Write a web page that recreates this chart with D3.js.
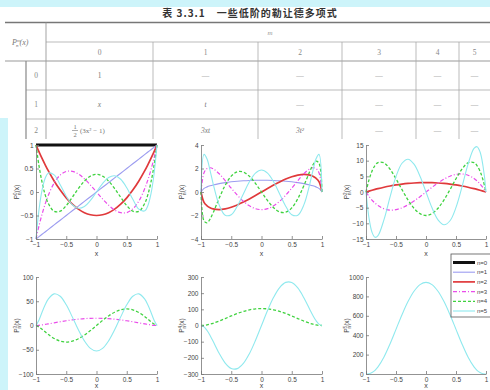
<!DOCTYPE html>
<html><head><meta charset="utf-8">
<script src="https://cdnjs.cloudflare.com/ajax/libs/d3/7.8.5/d3.min.js"></script>
<style>body{margin:0;background:#fff}svg{display:block}</style>
</head><body>
<svg id="c" width="490" height="390"></svg>
<script>
// ---------- data ----------
const xs = [-1,-0.95,-0.9,-0.85,-0.8,-0.7,-0.6,-0.5,-0.4,-0.3,-0.2,-0.1,0,0.1,0.2,0.3,0.4,0.5,0.6,0.7,0.8,0.85,0.9,0.95,1];
const ordersM = [0,1,2,3,4,5];
const degreesN = [0,1,2,3,4,5];
const legendLabels = ["n=0","n=1","n=2","n=3","n=4","n=5"];
const xTicks = [-1,-0.5,0,0.5,1];
const yDomains = [[-1,1],[-4,4],[-15,15],[-100,100],[-300,300],[0,1000]];
const yTicks = [[-1,-0.5,0,0.5,1],[-4,-2,0,2,4],[-15,-10,-5,0,5,10,15],[-100,-50,0,50,100],[-300,-200,-100,0,100,200,300],[0,200,400,600,800,1000]];

const m0 = [
 [1,1,1,1,1,1,1,1,1,1,1,1,1,1,1,1,1,1,1,1,1,1,1,1,1],
 [-1,-0.95,-0.9,-0.85,-0.8,-0.7,-0.6,-0.5,-0.4,-0.3,-0.2,-0.1,0,0.1,0.2,0.3,0.4,0.5,0.6,0.7,0.8,0.85,0.9,0.95,1],
 [1,0.854,0.715,0.584,0.46,0.235,0.04,-0.125,-0.26,-0.365,-0.44,-0.485,-0.5,-0.485,-0.44,-0.365,-0.26,-0.125,0.04,0.235,0.46,0.584,0.715,0.854,1],
 [-1,-0.718,-0.473,-0.26,-0.08,0.193,0.36,0.438,0.44,0.383,0.28,0.148,0,-0.148,-0.28,-0.383,-0.44,-0.438,-0.36,-0.193,0.08,0.26,0.473,0.718,1],
 [1,0.554,0.208,-0.051,-0.233,-0.412,-0.408,-0.289,-0.113,0.073,0.232,0.338,0.375,0.338,0.232,0.073,-0.113,-0.289,-0.408,-0.412,-0.233,-0.051,0.208,0.554,1],
 [-1,-0.373,0.041,0.286,0.4,0.365,0.153,-0.09,-0.271,-0.345,-0.308,-0.179,0,0.179,0.308,0.345,0.271,0.09,-0.153,-0.365,-0.4,-0.286,-0.041,0.373,1]
];
const m1 = [
 null,
 [0,0.312,0.436,0.527,0.6,0.714,0.8,0.866,0.917,0.954,0.98,0.995,1,0.995,0.98,0.954,0.917,0.866,0.8,0.714,0.6,0.527,0.436,0.312,0],
 [0,-0.89,-1.177,-1.343,-1.44,-1.5,-1.44,-1.299,-1.1,-0.859,-0.588,-0.299,0,0.299,0.588,0.859,1.1,1.299,1.44,1.5,1.44,1.343,1.177,0.89,0],
 [0,1.645,1.994,2.064,1.98,1.553,0.96,0.325,-0.275,-0.787,-1.176,-1.418,-1.5,-1.418,-1.176,-0.787,-0.275,0.325,0.96,1.553,1.98,2.064,1.994,1.645,0],
 [0,-2.46,-2.619,-2.303,-1.776,-0.537,0.576,1.353,1.723,1.696,1.333,0.729,0,-0.729,-1.333,-1.696,-1.723,-1.353,-0.576,0.537,1.776,2.303,2.619,2.46,0],
 [0,3.202,2.81,1.824,0.722,-1.095,-1.978,-1.928,-1.207,-0.161,0.87,1.608,1.875,1.608,0.87,-0.161,-1.207,-1.928,-1.978,-1.095,0.722,1.824,2.81,3.202,0]
];
const m2 = [
 null, null,
 [0,0.293,0.57,0.833,1.08,1.53,1.92,2.25,2.52,2.73,2.88,2.97,3,2.97,2.88,2.73,2.52,2.25,1.92,1.53,1.08,0.833,0.57,0.293,0],
 [0,-1.389,-2.565,-3.538,-4.32,-5.355,-5.76,-5.625,-5.04,-4.095,-2.88,-1.485,0,1.485,2.88,4.095,5.04,5.625,5.76,5.355,4.32,3.538,2.565,1.389,0],
 [0,3.888,6.655,8.445,9.396,9.295,7.296,4.219,0.756,-2.525,-5.184,-6.905,-7.5,-6.905,-5.184,-2.525,0.756,4.219,7.296,9.295,9.396,8.445,6.655,3.888,0],
 [0,-8.303,-12.838,-14.458,-13.91,-8.809,-1.613,4.922,9.173,10.463,8.87,5.042,0,-5.042,-8.87,-10.463,-9.173,-4.922,1.613,8.809,13.91,14.458,12.838,8.303,0]
];
const m3 = [
 null, null, null,
 [0,0.457,1.242,2.193,3.24,5.463,7.68,9.743,11.548,13.021,14.109,14.776,15,14.776,14.109,13.021,11.548,9.743,7.68,5.463,3.24,2.193,1.242,0.457,0],
 [0,-3.037,-7.826,-13.047,-18.144,-26.769,-32.256,-34.1,-32.335,-27.345,-19.753,-10.343,0,10.343,19.753,27.345,32.335,34.1,32.256,26.769,18.144,13.047,7.826,3.037,0],
 [0,11.384,27.349,42.228,53.978,65.203,60.211,42.625,17.784,-8.659,-31.604,-47.06,-52.5,-47.06,-31.604,-8.659,17.784,42.625,60.211,65.203,53.978,42.228,27.349,11.384,0]
];
const m4 = [
 null, null, null, null,
 [0,0.998,3.791,8.086,13.608,27.311,43.008,59.063,74.088,86.951,96.768,102.911,105,102.911,96.768,86.951,74.088,59.063,43.008,27.311,13.608,8.086,3.791,0.998,0],
 [0,-8.534,-30.703,-61.855,-97.978,-172.056,-232.243,-265.781,-266.717,-234.766,-174.182,-92.619,0,92.619,174.182,234.766,266.717,265.781,232.243,172.056,97.978,61.855,30.703,8.534,0]
];
const m5 = [
 null, null, null, null, null,
 [0,2.805,14.87,38.335,73.483,175.534,309.658,460.347,611.132,746.512,853.316,921.555,945,921.555,853.316,746.512,611.132,460.347,309.658,175.534,73.483,38.335,14.87,2.805,0]
];
const allM = [m0,m1,m2,m3,m4,m5];

// table content
const tableTitle = "表 3.3.1　一些低阶的勒让德多项式";
const colHeads = ["0","1","2","3","4","5"];
const rowHeads = ["0","1","2"];
const cells = [
 ["1","—","—","—","—","—"],
 ["x","t","—","—","—","—"],
 ["FRAC","3xt","3t²","—","—","—"]
];

// ---------- styles ----------
const lineStyle = [
 {c:"#111", w:3, d:null},
 {c:"#9c9cf0", w:1.1, d:null},
 {c:"#e0393b", w:1.7, d:null},
 {c:"#ea4cea", w:1.2, d:"4,2,1,2"},
 {c:"#3fd23f", w:1.3, d:"3,2"},
 {c:"#8fe9ee", w:1.1, d:null}
];

const svg = d3.select("#c");
svg.append("rect").attr("x",0).attr("y",0).attr("width",490).attr("height",7).attr("fill","#cdf4fa");
svg.append("rect").attr("x",0).attr("y",118).attr("width",8).attr("height",272).attr("fill","#cdf4fa");

// ---------- table ----------
const tg = svg.append("g");
tg.append("text").attr("x",250).attr("y",17).attr("text-anchor","middle")
  .attr("font-family","'Noto Sans CJK SC'").attr("font-weight","bold").attr("font-size",10)
  .attr("letter-spacing",1).attr("fill","#333").text(tableTitle);
const colX = [46,153,258,342,416,459,490];
const hl = (x1,x2,y,w,c)=>tg.append("line").attr("x1",x1).attr("x2",x2).attr("y1",y).attr("y2",y).attr("stroke",c).attr("stroke-width",w);
const vl = (x,y1,y2,w,c)=>tg.append("line").attr("x1",x).attr("x2",x).attr("y1",y1).attr("y2",y2).attr("stroke",c).attr("stroke-width",w);
hl(5,490,22.5,1.5,"#777");
hl(46,490,42,0.8,"#aaa");
hl(5,490,61,1.2,"#999");
hl(26,490,90,0.8,"#aaa");
hl(26,490,119,0.8,"#aaa");
vl(46,22.5,140,0.9,"#999");
vl(26,61,140,1.2,"#888");
colX.slice(1,6).forEach(x=>vl(x,42,140,0.8,"#aaa"));
const tf = "'Liberation Serif', serif";
const ph = tg.append("text").attr("x",12).attr("y",45).attr("font-family",tf).attr("font-size",8).attr("fill","#777").attr("font-style","italic");
ph.append("tspan").text("P");
ph.append("tspan").attr("dy",-3).attr("font-size",5).text("m");
ph.append("tspan").attr("dx",-4.5).attr("dy",5).attr("font-size",5).text("n");
ph.append("tspan").attr("dy",-2).attr("dx",1).text("(x)");
tg.append("text").attr("x",270).attr("y",35).attr("text-anchor","middle").attr("font-family",tf).attr("font-size",7).attr("font-style","italic").attr("fill","#999").text("m");
colHeads.forEach((h,i)=>{
  tg.append("text").attr("x",(colX[i]+colX[i+1])/2).attr("y",54.5).attr("text-anchor","middle")
    .attr("font-family",tf).attr("font-size",7.5).attr("fill","#888").text(h);
});
const rowY = [78,107,133];
rowHeads.forEach((h,i)=>{
  tg.append("text").attr("x",36).attr("y",rowY[i]).attr("text-anchor","middle")
    .attr("font-family",tf).attr("font-size",7.5).attr("fill","#888").text(h);
});
cells.forEach((row,r)=>row.forEach((v,c)=>{
  const cx=(colX[c]+colX[c+1])/2;
  if(v==="FRAC"){
    const g=tg.append("g").attr("fill","#777").attr("font-family",tf);
    g.append("text").attr("x",75).attr("y",rowY[r]-4).attr("text-anchor","middle").attr("font-size",6.5).text("1");
    g.append("line").attr("x1",72).attr("x2",78).attr("y1",rowY[r]-2.5).attr("y2",rowY[r]-2.5).attr("stroke","#777").attr("stroke-width",0.6);
    g.append("text").attr("x",75).attr("y",rowY[r]+3.5).attr("text-anchor","middle").attr("font-size",6.5).text("2");
    g.append("text").attr("x",80).attr("y",rowY[r]).attr("font-size",7).text("(3x² − 1)");
  } else {
    const it = v!=="—" && v!=="1";
    tg.append("text").attr("x",cx).attr("y",rowY[r]).attr("text-anchor","middle")
      .attr("font-family",tf).attr("font-size",7.5).attr("fill",v==="—"?"#999":"#777")
      .attr("font-style",it?"italic":"normal").text(v);
  }
}));
svg.append("rect").attr("x",8).attr("y",139).attr("width",482).attr("height",251).attr("fill","#fff");

// ---------- plots ----------
const cols = [[36,157],[201,322],[366,486]];
const rows = [[145,239],[277,374]];
const xLabelDy = [17,13.5];
const sf = "'Liberation Sans', Arial, sans-serif";
ordersM.forEach((m,k)=>{
  const r=Math.floor(k/3);
  const [x0,x1]=cols[k%3], [y0,y1]=rows[r];
  const xS=d3.scaleLinear().domain([-1,1]).range([x0,x1]);
  const yS=d3.scaleLinear().domain(yDomains[k]).range([y1,y0]);
  const g=svg.append("g");
  const line=d3.line().x((d,i)=>xS(xs[i])).y(d=>yS(d)).curve(d3.curveCatmullRom.alpha(0.5));
  degreesN.forEach(n=>{
    const vals=allM[k][n]; if(!vals) return;
    const st=lineStyle[n];
    g.append("path").attr("d",line(vals)).attr("fill","none").attr("stroke",st.c)
      .attr("stroke-width",st.w).attr("stroke-dasharray",st.d).attr("stroke-linejoin","round");
  });
  const ax=g.append("g").attr("transform",`translate(0,${y1})`)
    .call(d3.axisBottom(xS).tickValues(xTicks).tickFormat(d3.format("~g")).tickSizeInner(-3).tickSizeOuter(0).tickPadding(3));
  const ay=g.append("g").attr("transform",`translate(${x0},0)`)
    .call(d3.axisLeft(yS).tickValues(yTicks[k]).tickFormat(d3.format("~g")).tickSizeInner(-3).tickSizeOuter(0).tickPadding(2.5));
  [ax,ay].forEach(a=>{
    a.selectAll("path,line").attr("stroke","#777").attr("stroke-width",0.8);
    a.selectAll("text").attr("font-family",sf).attr("font-size",6.5).attr("fill","#444");
  });
  g.append("text").attr("x",(x0+x1)/2).attr("y",y1+xLabelDy[r]).attr("text-anchor","middle")
    .attr("font-family",sf).attr("font-size",7).attr("fill","#444").text("x");
  const lx=x0-17, ly=(y0+y1)/2;
  const yl=g.append("text").attr("transform",`translate(${lx},${ly}) rotate(-90)`).attr("text-anchor","middle")
    .attr("font-family",sf).attr("font-size",6.5).attr("fill","#444");
  yl.append("tspan").text("P");
  yl.append("tspan").attr("dy",-2.5).attr("font-size",4.5).text(m);
  yl.append("tspan").attr("dx",-2.5).attr("dy",4.5).attr("font-size",4.5).text("n");
  yl.append("tspan").attr("dy",-2).text("(x)");
});

// ---------- legend ----------
const lg=svg.append("g");
lg.append("rect").attr("x",451).attr("y",254).attr("width",48).attr("height",63).attr("fill","#fff").attr("stroke","#555").attr("stroke-width",0.8);
legendLabels.forEach((lab,i)=>{
  const y=262.5+i*9.7, st=lineStyle[i];
  lg.append("line").attr("x1",453).attr("x2",475).attr("y1",y).attr("y2",y).attr("stroke",st.c)
    .attr("stroke-width",st.w).attr("stroke-dasharray",st.d);
  lg.append("text").attr("x",477).attr("y",y+2).attr("font-family",sf).attr("font-size",6).attr("fill","#444").text(lab);
});
</script>
</body></html>
